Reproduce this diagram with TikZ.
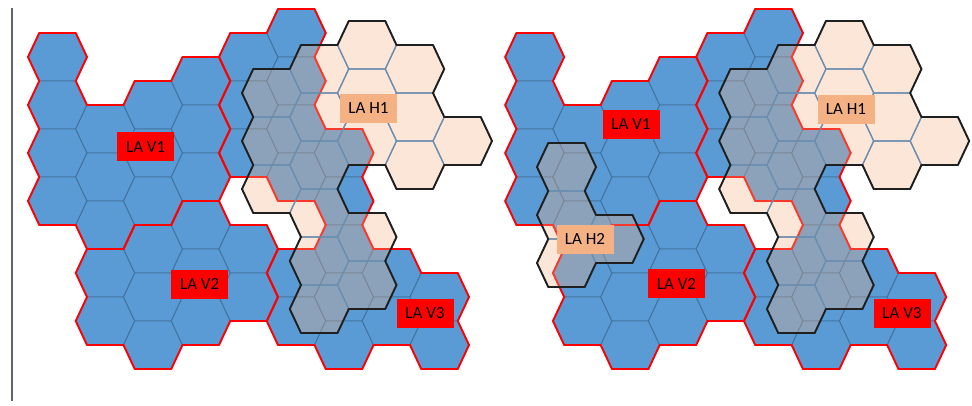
\documentclass[tikz,border=0pt]{standalone}
\usepackage{fontspec}
\setmainfont{Carlito}
\definecolor{vblue}{HTML}{5B9BD5}
\definecolor{vgrid}{HTML}{41719C}
\definecolor{horange}{HTML}{F4B183}
\definecolor{hgrid}{HTML}{6A8DB0}
\definecolor{axiscol}{HTML}{56677A}

\def\HA{29.5}\def\HB{18.25}\def\HH{24}\def\CS{47.75}

\newcommand\regset[4]{\expandafter\xdef\csname hexR#1x\number\numexpr#2\relax y\number\numexpr#3\relax\endcsname{#4}}
\newcommand\regget[3]{\ifcsname hexR#1x\number\numexpr#2\relax y\number\numexpr#3\relax\endcsname\csname hexR#1x\number\numexpr#2\relax y\number\numexpr#3\relax\endcsname\else0\fi}
\newcommand\registerlayer[2]{\foreach \ci/\ri/\gi in #2 {\regset{#1}{\ci}{\ri}{\gi}}}

\newcommand\hexat[2]{(#1+\HA,#2) -- (#1+\HB,#2-\HH) -- (#1-\HB,#2-\HH) -- (#1-\HA,#2) -- (#1-\HB,#2+\HH) -- (#1+\HB,#2+\HH) -- cycle}
\newcommand\hexexpr[2]{({#1+\HA},{#2}) -- ({#1+\HB},{#2-\HH}) -- ({#1-\HB},{#2-\HH}) -- ({#1-\HA},{#2}) -- ({#1-\HB},{#2+\HH}) -- ({#1+\HB},{#2+\HH}) -- cycle}

\newcommand\borders[5]{%
  \foreach \ci/\ri/\gi in #5 {%
    \pgfmathsetmacro\cx{#2+(\ci)*\CS}%
    \pgfmathsetmacro\cy{#3+(\ri)*\HH}%
    \ifnum\regget{#1}{\ci}{\ri-2}=\gi\relax\else\draw[#4] (\cx-\HB,\cy-\HH) -- (\cx+\HB,\cy-\HH);\fi
    \ifnum\regget{#1}{\ci}{\ri+2}=\gi\relax\else\draw[#4] (\cx-\HB,\cy+\HH) -- (\cx+\HB,\cy+\HH);\fi
    \ifnum\regget{#1}{\ci+1}{\ri-1}=\gi\relax\else\draw[#4] (\cx+\HB,\cy-\HH) -- (\cx+\HA,\cy);\fi
    \ifnum\regget{#1}{\ci+1}{\ri+1}=\gi\relax\else\draw[#4] (\cx+\HA,\cy) -- (\cx+\HB,\cy+\HH);\fi
    \ifnum\regget{#1}{\ci-1}{\ri-1}=\gi\relax\else\draw[#4] (\cx-\HA,\cy) -- (\cx-\HB,\cy-\HH);\fi
    \ifnum\regget{#1}{\ci-1}{\ri+1}=\gi\relax\else\draw[#4] (\cx-\HB,\cy+\HH) -- (\cx-\HA,\cy);\fi
  }%
}

\newcommand\vlayer[2]{% #1 ox, #2 oy
  \foreach \ci/\ri/\gi in \VL {%
    \pgfmathsetmacro\cx{#1+(\ci)*\CS}%
    \pgfmathsetmacro\cy{#2+(\ri)*\HH}%
    \filldraw[vcell] \hexat{\cx}{\cy};
  }%
  \borders{V}{#1}{#2}{redb}{\VL}%
}

\newcommand\hlayer[4]{% #1 layer, #2 ox, #3 oy, #4 list
  \fill[hfillst] \foreach \ci/\ri/\gi in #4 { \hexexpr{#2+(\ci)*\CS}{#3+(\ri)*\HH} };
  \foreach \ci/\ri/\gi in #4 {\draw[hgridst] \hexexpr{#2+(\ci)*\CS}{#3+(\ri)*\HH};}
  \borders{#1}{#2}{#3}{blackb}{#4}%
}

\def\VL{0/0/1,0/2/1,0/4/1,0/6/1,1/3/1,1/5/1,1/7/1,2/2/1,2/4/1,2/6/1,3/1/1,3/3/1,3/5/1,
1/9/2,1/11/2,2/8/2,2/10/2,2/12/2,3/7/2,3/9/2,3/11/2,4/8/2,4/10/2,
4/0/3,4/2/3,4/4/3,5/-1/3,5/1/3,5/3/3,5/5/3,5/9/3,5/11/3,6/4/3,6/6/3,6/8/3,6/10/3,6/12/3,7/9/3,7/11/3,8/10/3,8/12/3}
\def\HLone{-2/2/1,-2/4/1,-2/6/1,-1/1/1,-1/3/1,-1/5/1,-1/7/1,-1/9/1,-1/11/1,0/0/1,0/2/1,0/4/1,0/8/1,0/10/1,1/1/1,1/3/1,1/5/1,2/4/1}
\def\HLtwo{0/0/1,0/2/1,0/4/1,1/3/1}

\begin{document}
\begin{tikzpicture}[x=1pt,y=-1pt,
  vcell/.style={fill=vblue,draw=vgrid,line width=0.9pt},
  redb/.style={draw=red,line width=1.9pt,line cap=round},
  hfillst/.style={fill=horange,fill opacity=0.32},
  hgridst/.style={draw=hgrid,line width=1.2pt},
  blackb/.style={draw=black!88,line width=1.9pt,line cap=round},
  axisst/.style={draw=axiscol,line width=2pt},
  lab/.style={minimum width=57pt,minimum height=29pt,inner sep=0pt,text=black,font=\fontsize{17}{20}\selectfont},
  vlab/.style={lab,fill=red},
  hlab/.style={lab,fill=horange}]
\useasboundingbox (0,0) rectangle (972,405);
\registerlayer{V}{\VL}
\registerlayer{H}{\HLone}
\registerlayer{K}{\HLtwo}

\coordinate (vtop) at (12,8);
\coordinate (vbot) at (12,401);
\draw[axisst] (vtop) -- (vbot);

% left panel
\vlayer{57.5}{57}
\hlayer{H}{367}{45}{\HLone}
\node[vlab] (lv1) at (145.7,146.7) {LA V1};
\node[vlab] (lv2) at (199.7,284) {LA V2};
\node[vlab] (lv3) at (425,313) {LA V3};
\node[hlab] (lh1) at (368.5,108) {LA H1};

% right panel
\vlayer{534.7}{57}
\hlayer{H}{844.2}{45}{\HLone}
\hlayer{K}{566.5}{167}{\HLtwo}
\node[vlab] (rv1) at (631,124) {LA V1};
\node[vlab] (rv2) at (676.5,283.5) {LA V2};
\node[vlab] (rv3) at (902,313.5) {LA V3};
\node[hlab] (rh1) at (846,109) {LA H1};
\node[hlab] (rh2) at (585,239) {LA H2};
\end{tikzpicture}
\end{document}
